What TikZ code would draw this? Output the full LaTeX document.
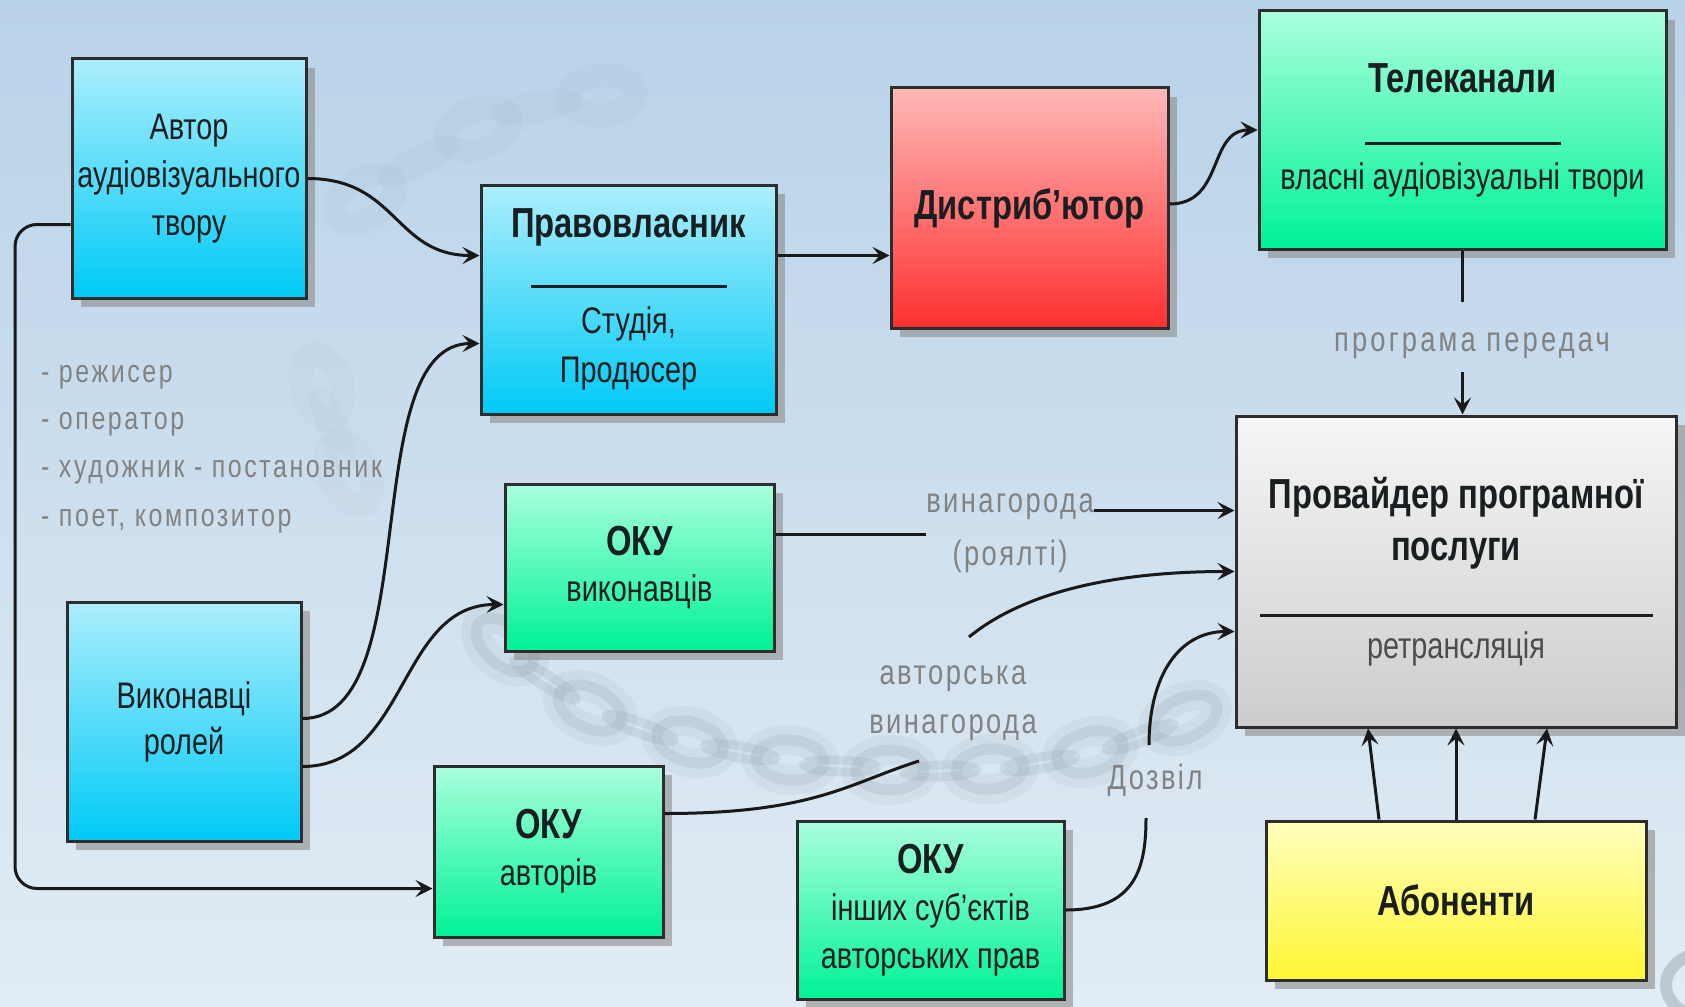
\documentclass[tikz,border=0pt]{standalone}
\usepackage{fontspec}
\setmainfont{Liberation Sans}[FakeStretch=0.78]
\usetikzlibrary{shadows,arrows.meta}
\definecolor{bgtop}{RGB}{184,210,232}
\definecolor{bgbot}{RGB}{226,236,244}
\definecolor{blueT}{RGB}{172,238,253}
\definecolor{blueB}{RGB}{0,202,246}
\definecolor{redT}{RGB}{255,184,184}
\definecolor{redB}{RGB}{255,48,48}
\definecolor{greenT}{RGB}{170,255,220}
\definecolor{greenB}{RGB}{0,242,150}
\definecolor{grayT}{RGB}{246,246,246}
\definecolor{grayB}{RGB}{204,204,204}
\definecolor{yelT}{RGB}{255,255,190}
\definecolor{yelB}{RGB}{255,246,50}
\definecolor{edge}{RGB}{45,45,45}
\definecolor{shade}{RGB}{140,140,140}
\definecolor{lblgray}{RGB}{130,130,130}
\definecolor{ink}{RGB}{25,30,32}
\definecolor{chainc}{RGB}{105,120,135}
\newcommand\boxtitle[1]{{\fontsize{42}{48}\selectfont\bfseries #1}}
\begin{document}
\begin{tikzpicture}[x=1pt,y=-1pt,
  box/.style={draw=edge, line width=3pt, align=center, inner sep=0pt, text=ink,
    font=\fontsize{37}{48}\selectfont,
    drop shadow={shadow xshift=9pt, shadow yshift=-9pt, fill=shade, opacity=0.6}},
  bluebox/.style={box, top color=blueT, bottom color=blueB},
  redbox/.style={box, top color=redT, bottom color=redB},
  greenbox/.style={box, top color=greenT, bottom color=greenB},
  graybox/.style={box, top color=grayT, bottom color=grayB},
  yelbox/.style={box, top color=yelT, bottom color=yelB},
  conn/.style={draw=black!90, line width=3pt},
  arr/.style={conn, -{Stealth[length=17pt,width=17pt,inset=7pt]}},
  lbl/.style={text=lblgray, inner sep=0pt, align=center,
    font=\fontsize{35}{53}\selectfont\addfontfeatures{LetterSpace=7}},
  chainlink/.style={draw=chainc, line width=11pt},
]
\shade[top color=bgtop, bottom color=bgbot] (0,0) rectangle (1685,1006);
\useasboundingbox (0,0) rectangle (1685,1006);

% faint chain in the background
\begin{scope}[opacity=0.07]
\foreach \x/\y/\a in {505/645/-40,590/708/-25,690/742/-15,790/760/-5,890/770/0,990/769/5,1090/752/15,1185/718/25}
  \draw[chainlink, line width=30pt, rotate around={\a:(\x,\y)}] (\x,\y) ellipse [x radius=34, y radius=20];
\end{scope}
\begin{scope}[opacity=0.12]
\foreach \x/\y/\a in {505/645/-40,590/708/-25,690/742/-15,790/760/-5,890/770/0,990/769/5,1090/752/15,1185/718/25}
  \draw[chainlink, rotate around={\a:(\x,\y)}] (\x,\y) ellipse [x radius=34, y radius=20];
\foreach \x/\y/\a in {545/680/-32,640/728/-20,740/752/-10,840/766/-2,940/771/2,1040/763/10,1140/737/20}
  \draw[chainlink, line width=9pt, rotate around={\a:(\x,\y)}] (\x,\y) ellipse [x radius=36, y radius=6];
\end{scope}
\begin{scope}[opacity=0.04]
\foreach \x/\y/\a in {365/199/35,478/129/20,602/95/5,322/387/-75,349/473/-65}
  \draw[chainlink, line width=24pt, rotate around={\a:(\x,\y)}] (\x,\y) ellipse [x radius=34, y radius=20];
\foreach \x/\y/\a in {419/161/28,537/107/12,333/430/-70}
  \draw[chainlink, line width=18pt, rotate around={\a:(\x,\y)}] (\x,\y) ellipse [x radius=36, y radius=6];
\end{scope}
\begin{scope}[opacity=0.3]
\draw[chainlink, line width=12pt] (1712,985) ellipse [x radius=46, y radius=34];
\end{scope}

% boxes
\node[bluebox, minimum width=234pt, minimum height=239pt] (autor) at (189,178.5)
  {Автор\\аудіовізуального\\твору};
\node[bluebox, minimum width=295pt, minimum height=229pt] (prav) at (628.5,299.5)
  {\boxtitle{Правовласник}\\[2pt]\rule{196pt}{3pt}\\[-2pt]Студія,\\[1pt]Продюсер};
\node[redbox, minimum width=277pt, minimum height=240pt] (dist) at (1029.5,208)
  {\boxtitle{Дистриб'ютор}};
\node[greenbox, minimum width=407pt, minimum height=238pt] (tel) at (1462.5,130)
  {\boxtitle{Телеканали}\\[5pt]\rule{196pt}{3pt}\\[-4pt]власні аудіовізуальні твори};
\node[graybox, minimum width=440pt, minimum height=311pt] (prov) at (1456,571.5)
  {\boxtitle{Провайдер програмної}\\[4pt]\boxtitle{послуги}\\[9pt]\rule{393pt}{3pt}\\[-7pt]{\color{black!70}ретрансляція}};
\node[greenbox, minimum width=269pt, minimum height=167pt] (okuv) at (639.5,567.5)
  {\boxtitle{ОКУ}\\[-2pt]виконавців};
\node[bluebox, minimum width=234pt, minimum height=239pt] (vyk) at (184,721.5)
  {Виконавці\\[-2pt]ролей};
\node[greenbox, minimum width=229pt, minimum height=171pt] (okua) at (548.5,851.5)
  {\boxtitle{ОКУ}\\[-1pt]авторів};
\node[greenbox, minimum width=267pt, minimum height=178pt] (okui) at (930.5,910)
  {\boxtitle{ОКУ}\\[-1pt]інших суб'єктів\\авторських прав};
\node[yelbox, minimum width=380pt, minimum height=159pt] (abon) at (1456,900.5)
  {\boxtitle{Абоненти}};

% labels
\node[lbl, align=left, anchor=west,
  font=\fontsize{32}{48}\selectfont\addfontfeatures{LetterSpace=8}] (roles) at (41,449)
  {- режисер\\[-1pt]- оператор\\- художник - постановник\\[1pt]- поет, композитор};
\node[lbl, minimum height=72pt, font=\fontsize{35}{53}\selectfont\addfontfeatures{LetterSpace=9}] (pp) at (1472,346) {програма передач};
\node[lbl] (roy) at (1010,533) {винагорода\\(роялті)};
\node[lbl] (avt) at (953,703) {авторська\\[-4pt]винагорода};
\node[lbl] (doz) at (1155,780) {Дозвіл};

\coordinate (a1) at (919,761);
\coordinate (a2) at (969,637);
\coordinate (d1) at (1146,818);
\coordinate (d2) at (1149,745);
\coordinate (p1) at ([yshift=44pt]prav.east);
\coordinate (o1) at ([yshift=33pt]okuv.east);
\coordinate (o2) at ([yshift=61pt]prov.west);
\coordinate (rail) at (15,500);

% connectors
\draw[arr] (autor.east) .. controls +(90,0) and +(-85,0) .. ([yshift=44pt]prav.west);
\draw[arr] ([yshift=3pt]vyk.east) .. controls +(125,0) and +(-125,0) .. ([yshift=-44pt]prav.west);
\draw[arr] ([yshift=-45pt]vyk.east) .. controls +(105,0) and +(-105,0) .. ([yshift=-37pt]okuv.west);
\draw[arr, rounded corners=22pt] ([yshift=-46pt]autor.west) -| (rail) |- ([yshift=-37pt]okua.west);
\draw[arr] (p1) -- (p1 -| dist.west);
\draw[arr] ([yshift=4pt]dist.east) .. controls +(55,0) and +(-50,0) .. (tel.west);
\draw[conn] (tel.south) -- ([yshift=8pt]tel.south |- pp.north);
\draw[arr] ([yshift=10pt]tel.south |- pp.south) -- (tel.south |- prov.north);
\draw[conn] (o1) -- (o1 -| roy.west);
\draw[arr] (o2 -| roy.east) -- (o2);
\draw[conn] ([yshift=38pt]okua.east) .. controls +(150,0) and +(-70,22) .. (a1);
\draw[arr] (a2) .. controls +(55,-45) and +(-120,0) .. (prov.west);
\draw[conn] (okui.east) .. controls +(70,0) and +(0,50) .. (d1);
\draw[arr] (d2) .. controls +(0,-70) and +(-55,0) .. ([yshift=-60pt]prov.west);
\draw[arr] ([xshift=-77pt]abon.north) -- ([xshift=-88pt]prov.south);
\draw[arr] (abon.north) -- (prov.south);
\draw[arr] ([xshift=79pt]abon.north) -- ([xshift=91pt]prov.south);
\end{tikzpicture}
\end{document}
